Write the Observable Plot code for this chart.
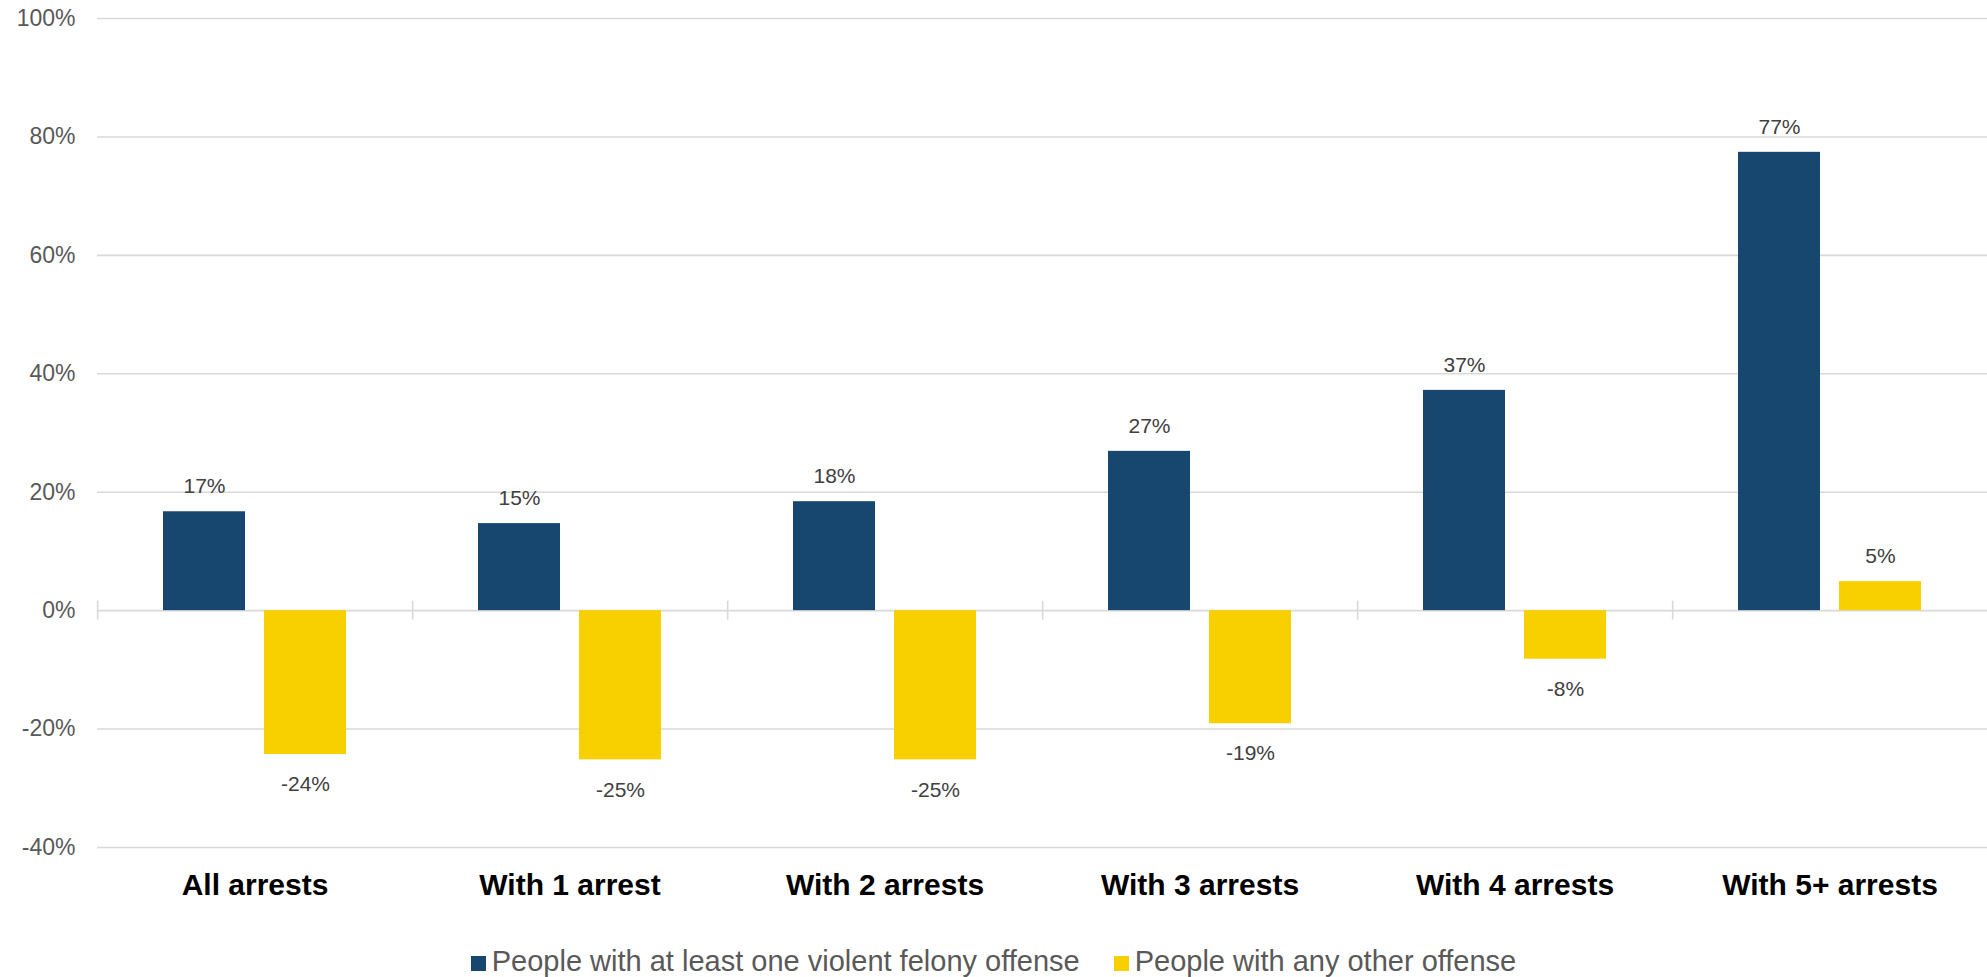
<!DOCTYPE html>
<html>
<head>
<meta charset="utf-8">
<script src="https://cdn.jsdelivr.net/npm/d3@7"></script>
<script src="https://cdn.jsdelivr.net/npm/@observablehq/plot@0.6"></script>
<style>
  html, body { margin: 0; padding: 0; background: #fff; }
  body { font-family: "Liberation Sans", Arial, sans-serif; width: 1987px; height: 977px; overflow: hidden; }
  #legend { display: flex; justify-content: center; align-items: center; gap: 34px; font-size: 29px; color: #595959; height: 60px; padding-top: 28px; box-sizing: border-box; }
  .item { display: flex; align-items: center; white-space: nowrap; }
  .sw { width: 15px; height: 15px; margin-right: 6px; margin-top: 5px; display: inline-block; }
</style>
</head>
<body>
<div id="chart"></div>
<div id="legend"></div>
<script>
const categories = ["All arrests", "With 1 arrest", "With 2 arrests", "With 3 arrests", "With 4 arrests", "With 5+ arrests"];
const seriesNames = ["People with at least one violent felony offense", "People with any other offense"];
const violentValues = [16.7, 14.7, 18.4, 26.9, 37.2, 77.4];
const otherValues = [-24.3, -25.2, -25.2, -19.1, -8.2, 4.9];
const yTicks = [-40, -20, 0, 20, 40, 60, 80, 100];
const seriesColors = ["#17476f", "#f8d000"];

const data = [];
categories.forEach((c, i) => {
  data.push({category: c, series: seriesNames[0], value: violentValues[i]});
  data.push({category: c, series: seriesNames[1], value: otherValues[i]});
});

const W = 1987, ML = 96, MR = 0;
const PI = 0.187, PO = 0.646;
const bandW = (W - ML - MR) / categories.length;
const step = bandW / (seriesNames.length - PI + 2 * PO);
// offset from facet's left edge to the centre of the first bar
const firstCenter = PO * step + (1 - PI) * step / 2;

const chart = Plot.plot({
  width: W,
  height: 917,
  marginLeft: ML,
  marginRight: MR,
  marginTop: 18,
  marginBottom: 70,
  style: {fontFamily: "'Liberation Sans', Arial, sans-serif", background: "#fff"},
  fx: {domain: categories, padding: 0, label: null},
  x: {domain: seriesNames, paddingInner: PI, paddingOuter: PO, axis: null},
  y: {domain: [-40, 100], label: null},
  color: {domain: seriesNames, range: seriesColors},
  marks: [
    Plot.ruleY(yTicks, {stroke: "#d9d9d9", strokeWidth: 1.6}),
    Plot.ruleX(categories, {fx: d => d, x: () => seriesNames[0], y1: -1.6, y2: 1.6, stroke: "#d9d9d9", strokeWidth: 1.6, dx: -firstCenter}),
    Plot.barY(data, {fx: "category", x: "series", y: "value", fill: "series"}),
    Plot.text(data, {filter: d => d.value >= 0, fx: "category", x: "series", y: "value", text: d => Math.round(d.value) + "%", dy: -25, fontSize: 21, fill: "#404040"}),
    Plot.text(data, {filter: d => d.value < 0, fx: "category", x: "series", y: "value", text: d => Math.round(d.value) + "%", dy: 30, fontSize: 21, fill: "#404040"}),
    Plot.axisY(yTicks, {tickSize: 0, tickPadding: 22, tickFormat: d => d + "%", fontSize: 23, fill: "#595959", label: null}),
    Plot.axisFx({anchor: "bottom", tickSize: 0, tickPadding: 26, fontSize: 30, fontWeight: "bold", fill: "#000", label: null})
  ]
});
document.getElementById("chart").appendChild(chart);

const legend = document.getElementById("legend");
seriesNames.forEach((s, i) => {
  const item = document.createElement("div");
  item.className = "item";
  const sw = document.createElement("span");
  sw.className = "sw";
  sw.style.background = seriesColors[i];
  item.appendChild(sw);
  item.appendChild(document.createTextNode(s));
  legend.appendChild(item);
});
</script>
</body>
</html>
